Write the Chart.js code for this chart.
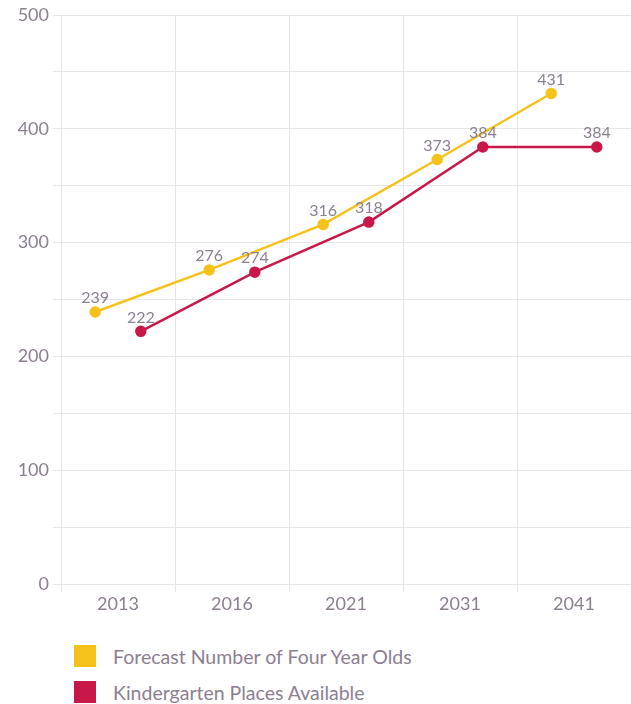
<!DOCTYPE html>
<html>
<head>
<meta charset="utf-8">
<script src="https://cdn.jsdelivr.net/npm/chart.js@4"></script>
<style>
  body { margin: 0; background: #fff; font-family: Lato, sans-serif; }
  #wrap { position: relative; width: 631px; height: 704px; }
  #chart { position: absolute; left: 0; top: 0; }
  #legend { position: absolute; left: 74px; top: 645px; }
  .item { display: flex; align-items: center; height: 22px; margin-bottom: 14px; color: #8c8090; font-size: 19.5px; }
  .box { width: 22px; height: 22px; margin-right: 17px; }
</style>
</head>
<body>
<div id="wrap">
  <canvas id="chart" width="631" height="625"></canvas>
  <div id="legend"></div>
</div>
<script>
const years = ['2013', '2016', '2021', '2031', '2041'];
const fourYearOlds = [239, 276, 316, 373, 431];
const kinderPlaces = [222, 274, 318, 384, 384];
const yTicks = [0, 100, 200, 300, 400, 500];

const textColor = '#8c8090';
const gridColor = '#e6e6e6';

function shifted(values, shift) {
    return values.map((v, i) => ({x: i + shift, y: v}));
}

const valueLabels = {
    id: 'valueLabels',
    afterDatasetsDraw(chart) {
        const ctx = chart.ctx;
        ctx.save();
        ctx.font = '16px Lato, sans-serif';
        ctx.fillStyle = textColor;
        ctx.textAlign = 'center';
        ctx.textBaseline = 'bottom';
        chart.data.datasets.forEach((ds, di) => {
            chart.getDatasetMeta(di).data.forEach((pt, i) => {
                ctx.fillText(ds.data[i].y, pt.x, pt.y - 6);
            });
        });
        ctx.restore();
    }
};

const data = {
    datasets: [
        {
            label: 'Forecast Number of Four Year Olds',
            data: shifted(fourYearOlds, -0.2),
            borderColor: '#f5c21b',
            backgroundColor: '#f5c21b',
            borderWidth: 2.5,
            pointRadius: 4.5,
        },
        {
            label: 'Kindergarten Places Available',
            data: shifted(kinderPlaces, 0.2),
            borderColor: '#c8184a',
            backgroundColor: '#c8184a',
            borderWidth: 2.5,
            pointRadius: 4.5,
        }
    ]
};

const config = {
    type: 'line',
    data,
    plugins: [valueLabels],
    options: {
        responsive: false,
        animation: false,
        layout: {
            autoPadding: false,
            padding: {top: 15, right: 0, left: 0, bottom: 0}
        },
        plugins: {
            legend: {display: false},
            tooltip: {enabled: false},
        },
        scales: {
            x: {
                type: 'linear',
                min: -0.5,
                max: 4.5,
                afterBuildTicks: (scale) => {
                    scale.ticks = years.map((y, i) => ({value: i}));
                    scale.min = -0.5;
                    scale.max = years.length - 0.5;
                },
                afterFit: (scale) => {
                    scale.height = 41;
                    scale.paddingLeft = 0;
                    scale.paddingRight = 0;
                },
                grid: {
                    offset: true,
                    color: gridColor,
                    tickLength: 8,
                },
                border: {color: gridColor},
                ticks: {
                    autoSkip: false,
                    maxRotation: 0,
                    color: textColor,
                    font: {family: 'Lato', size: 18},
                    padding: 1,
                    callback: (value) => years[value] ?? '',
                }
            },
            y: {
                min: 0,
                max: 500,
                afterFit: (scale) => { scale.width = 61; },
                grid: {
                    color: gridColor,
                    tickLength: 8,
                },
                border: {color: gridColor},
                ticks: {
                    stepSize: 50,
                    color: textColor,
                    font: {family: 'Lato', size: 18},
                    padding: 4,
                    callback: (value) => yTicks.includes(value) ? value : '',
                }
            }
        }
    }
};

const chart = new Chart(document.getElementById('chart'), config);

const legend = document.getElementById('legend');
chart.data.datasets.forEach(ds => {
    const item = document.createElement('div');
    item.className = 'item';
    const box = document.createElement('span');
    box.className = 'box';
    box.style.background = ds.backgroundColor;
    const label = document.createElement('span');
    label.textContent = ds.label;
    item.appendChild(box);
    item.appendChild(label);
    legend.appendChild(item);
});
</script>
</body>
</html>
